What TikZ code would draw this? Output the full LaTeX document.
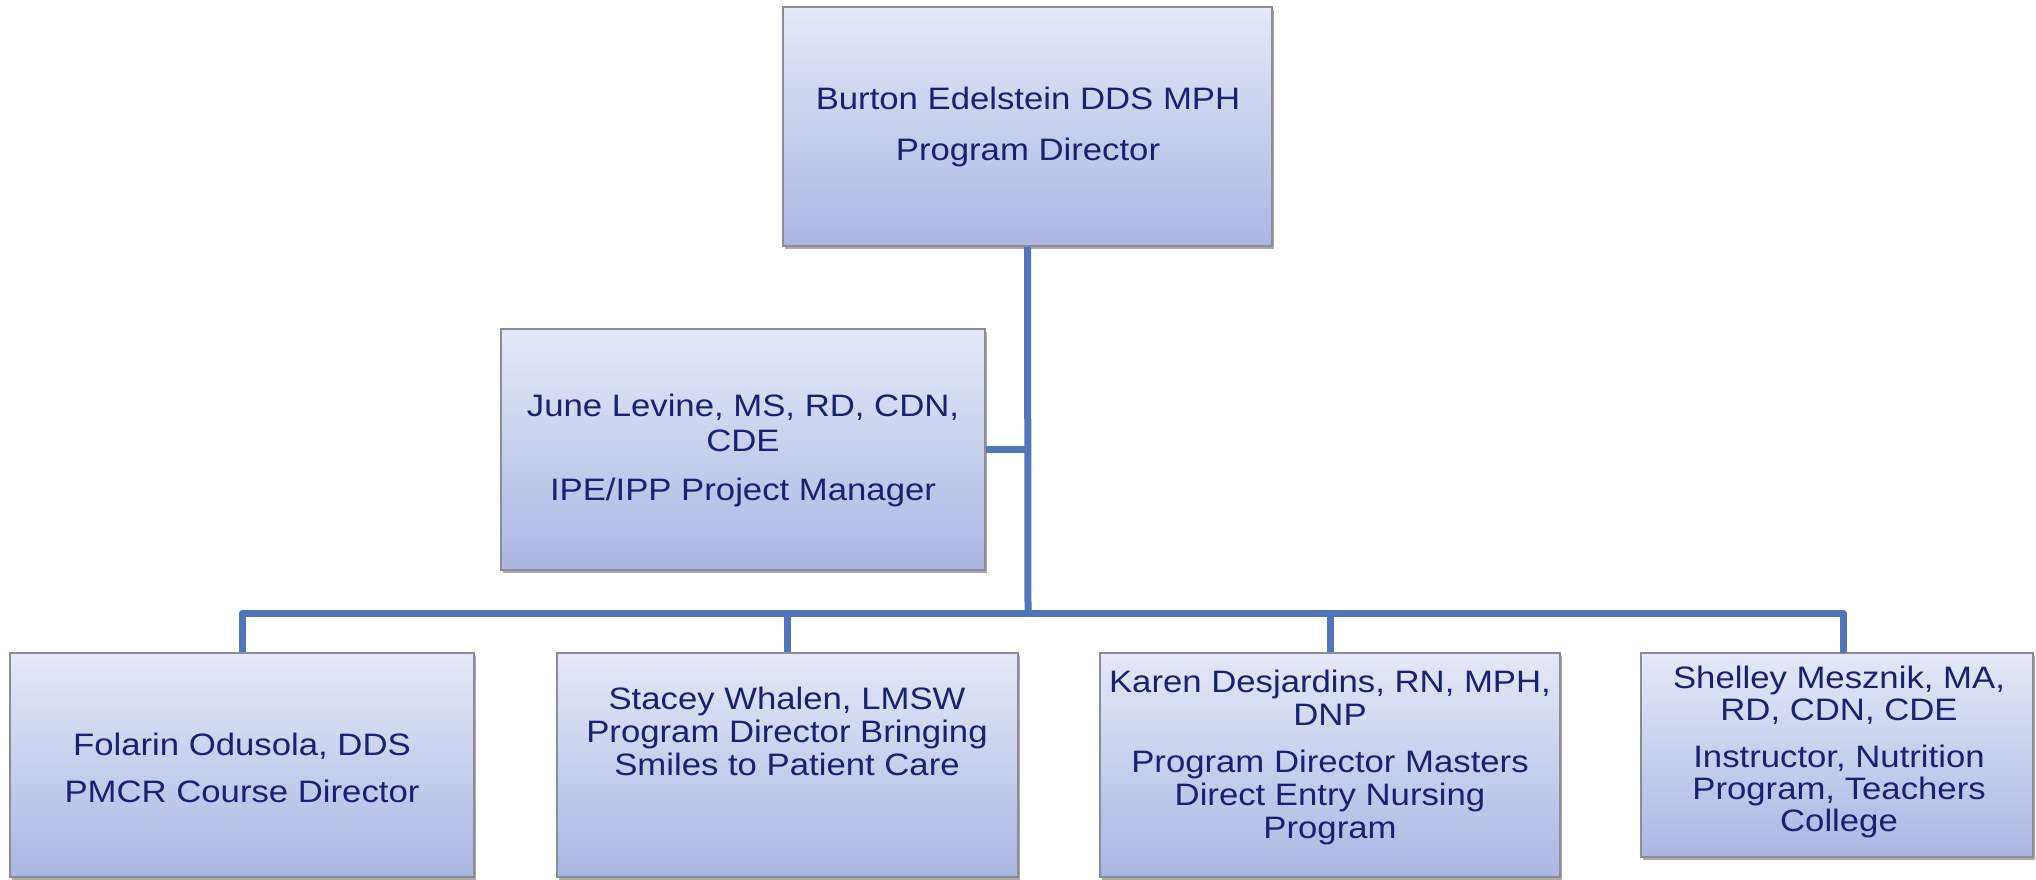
\documentclass[tikz,border=0pt]{standalone}
\usepackage{fontspec}
\setmainfont{Liberation Sans}[FakeStretch=1.12]
\usetikzlibrary{shadows}
\definecolor{boxtop}{RGB}{228,232,247}
\definecolor{boxmid}{RGB}{212,218,242}
\definecolor{boxbot}{RGB}{170,183,227}
\definecolor{boxline}{RGB}{140,140,150}
\definecolor{connblue}{RGB}{80,117,184}
\definecolor{txtnavy}{RGB}{24,34,112}
\tikzset{
  orgbox/.style={rectangle, draw=boxline, line width=1.6pt,
    top color=boxtop, middle color=boxmid, bottom color=boxbot,
    inner sep=0pt,
    drop shadow={shadow xshift=1.5pt, shadow yshift=-3pt, fill=black!60, opacity=0.55}},
  orgtext/.style={text=txtnavy, align=center, inner sep=0pt,
    font=\fontsize{31}{35}\selectfont},
  conn/.style={draw=connblue, line width=7pt, line join=round, line cap=butt}
}
\begin{document}
\begin{tikzpicture}[x=1pt,y=-1pt]
\useasboundingbox (0,0) rectangle (2036,879);

% boxes
\node[orgbox, minimum width=489pt, minimum height=239pt] (top) at (1027.5,126.5) {};
\node[orgbox, minimum width=484pt, minimum height=241pt] (june) at (743,449.5) {};
\node[orgbox, minimum width=464pt, minimum height=224pt] (b1) at (242,765) {};
\node[orgbox, minimum width=461pt, minimum height=224pt] (b2) at (787.5,765) {};
\node[orgbox, minimum width=460pt, minimum height=224pt] (b3) at (1330,765) {};
\node[orgbox, minimum width=392pt, minimum height=204pt] (b4) at (1837,755) {};

% texts
\node[orgtext] (topt) at (1028,127) {Burton Edelstein DDS MPH\\[16pt]Program Director};
\node[orgtext] (junet) at (743,450) {June Levine, MS, RD, CDN,\\CDE\\[14pt]IPE/IPP Project Manager};
\node[orgtext] (b1t) at (242,768) {Folarin Odusola, DDS\\[12pt]PMCR Course Director};
\node[orgtext, font=\fontsize{31}{33}\selectfont] (b2t) at (787,731) {Stacey Whalen, LMSW\\Program Director Bringing\\Smiles to Patient Care};
\node[orgtext, font=\fontsize{31}{33}\selectfont] (b3t) at (1330,757) {Karen Desjardins, RN, MPH,\\DNP\\[14pt]Program Director Masters\\Direct Entry Nursing\\Program};
\node[orgtext, font=\fontsize{31}{32}\selectfont] (b4t) at (1839,752) {Shelley Mesznik, MA,\\RD, CDN, CDE\\[15pt]Instructor, Nutrition\\Program, Teachers\\College};

% connectors
\coordinate (bus) at (1028,613);
\coordinate (b4drop) at (1843,653);
\draw[conn] (top.south) -- (bus);
\draw[conn] (june.east) -- (june.east -| bus);
\draw[conn] (b1.north) -- (b1.north |- bus) -- (b4drop |- bus) -- (b4drop);
\draw[conn] (b2.north) -- (b2.north |- bus);
\draw[conn] (b3.north) -- (b3.north |- bus);
\end{tikzpicture}
\end{document}
